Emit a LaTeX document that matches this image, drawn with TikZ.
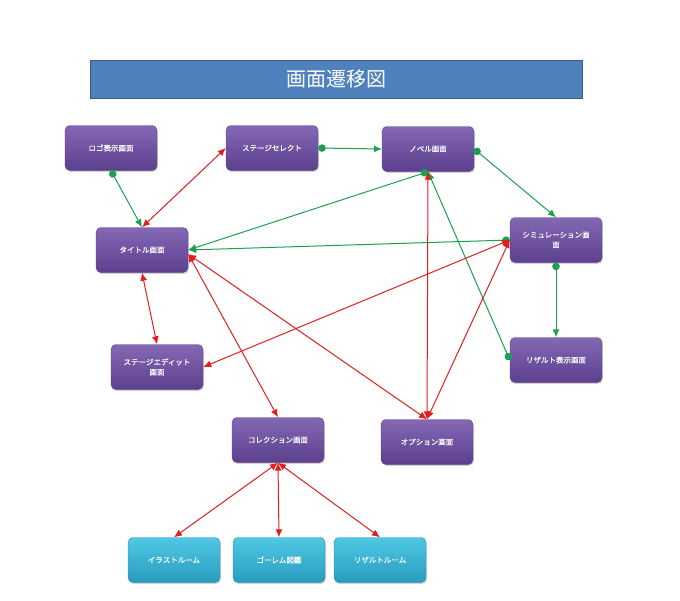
\documentclass[tikz,border=0pt]{standalone}
\usepackage{fontspec}
\newfontfamily\jpfont[FakeBold=0.35]{Noto Sans CJK JP}
\newfontfamily\jptitlefont{Noto Sans CJK JP}
\usetikzlibrary{arrows.meta,shadows}
\definecolor{barfill}{RGB}{79,129,189}
\definecolor{baredge}{RGB}{56,93,138}
\definecolor{screentop}{RGB}{132,104,180}
\definecolor{screenbot}{RGB}{92,64,142}
\definecolor{screenedge}{RGB}{88,64,130}
\definecolor{roomtop}{RGB}{80,200,228}
\definecolor{roombot}{RGB}{40,156,190}
\definecolor{roomedge}{RGB}{40,140,175}
\definecolor{golinecol}{RGB}{28,160,80}
\definecolor{backlinecol}{RGB}{226,30,30}
\tikzset{
  screen/.style={draw=screenedge, rounded corners=5pt, minimum width=92pt, minimum height=45pt,
    top color=screentop, bottom color=screenbot, text=white, align=center,
    font=\jpfont\fontsize{7.5}{10}\selectfont,
    drop shadow={opacity=0.35, shadow xshift=1pt, shadow yshift=-1.5pt}},
  room/.style={screen, draw=roomedge, top color=roomtop, bottom color=roombot},
  goline/.style={draw=golinecol, line width=1pt, {Circle[length=7.5pt]}-{Latex[length=8pt,width=7pt]}},
  backline/.style={draw=backlinecol, line width=1pt, {Latex[length=8pt,width=7pt]}-{Latex[length=8pt,width=7pt]}}
}
\begin{document}
\begin{tikzpicture}[x=1pt,y=1pt,yscale=-1,xscale=1]
        \useasboundingbox (0,0) rectangle (680,600);
        
        % Title bar
        \node (bar) [draw=baredge, fill=barfill, minimum width=492pt, minimum height=38pt,
          text=white, font=\jptitlefont\fontsize{20}{24}\selectfont] at (336,79) {画面遷移図};
        
        % Screens
        \node (logo) [screen] at (111,148) {ロゴ表示画面};
        \node (select) [screen] at (272,148) {ステージセレクト};
        \node (novel) [screen] at (428,149) {ノベル画面};
        \node (title) [screen] at (142,250) {タイトル画面};
        \node (sim) [screen] at (556,240) {シミュレーション画\\面};
        \node (edit) [screen] at (157,367) {ステージエディット\\画面};
        \node (result) [screen] at (556,360) {リザルト表示画面};
        \node (collection) [screen] at (278,440) {コレクション画面};
        \node (option) [screen] at (427,442) {オプション画面};
        
        % Rooms
        \node (illust) [room] at (174,560) {イラストルーム};
        \node (golem) [room] at (279,560) {ゴーレム図鑑};
        \node (resroom) [room] at (380,560) {リザルトルーム};
        
        % Forward transitions
        \draw [goline] (logo.south) -- (title.north);
        \draw [goline] (select.east) -- (novel.west);
        \draw [goline] (novel.east) -- (sim.north);
        \draw [goline] (novel.south) -- (title.east);
        \draw [goline] (sim.west) -- (title.east);
        \draw [goline] (sim.south) -- (result.north);
        \draw [goline] (result.west) -- (novel.south);
        
        % Two-way transitions
        \draw [backline] (title.north) -- (select.west);
        \draw [backline] (title.south) -- (edit.north);
        \draw [backline] (title.-5) -- (collection.north);
        \draw [backline] (title.-5) -- (option.north);
        \draw [backline] (edit.east) -- (sim.west);
        \draw [backline] (option.north) -- (novel.south);
        \draw [backline] (option.north) -- (sim.west);
        \draw [backline] (collection.south) -- (illust.north);
        \draw [backline] (collection.south) -- (golem.north);
        \draw [backline] (collection.south) -- (resroom.north);
    \end{tikzpicture}
\end{document}
